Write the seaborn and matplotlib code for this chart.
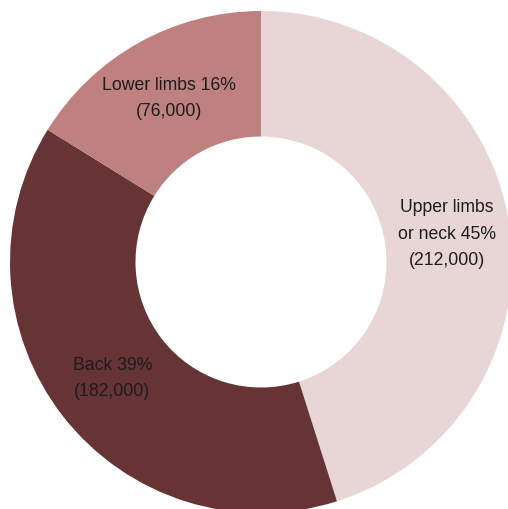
import matplotlib
matplotlib.use("Agg")
import matplotlib.pyplot as plt
import seaborn as sns

# Musculoskeletal disorders by affected body area
categories = ["Upper limbs\nor neck", "Back", "Lower limbs"]
cases = [212000, 182000, 76000]
percent_labels = ["45%", "39%", "16%"]
case_labels = ["(212,000)", "(182,000)", "(76,000)"]
colors = ["#E8D5D6", "#673436", "#BF8180"]

sns.set_theme(style="white")
plt.rcParams["font.family"] = ["Liberation Sans", "DejaVu Sans"]

fig = plt.figure(figsize=(5.08, 5.10), dpi=100)
# Axes box chosen so the ring spans 502 px with its centre at (261, 263) from top-left
W, H = 508, 510
R = 251
cx, cy = 261, 263
ax = fig.add_axes([(cx - R) / W, (H - cy - R) / H, 2 * R / W, 2 * R / H])

labels = [f"{c} {p}\n{n}" for c, p, n in zip(categories, percent_labels, case_labels)]

wedges, texts = ax.pie(
    cases,
    labels=labels,
    colors=sns.color_palette(colors),
    startangle=90,
    counterclock=False,
    labeldistance=0.75,
    wedgeprops=dict(width=0.5, linewidth=0),
    textprops=dict(fontsize=12.7, color="#1c1c1c", linespacing=1.72),
)
for t in texts:
    t.set_horizontalalignment("center")
    t.set_verticalalignment("center")
    t.set_multialignment("center")

ax.set_xlim(-1, 1)
ax.set_ylim(-1, 1)
ax.set_aspect("auto")
ax.axis("off")

fig.savefig("out.png", dpi=100)
